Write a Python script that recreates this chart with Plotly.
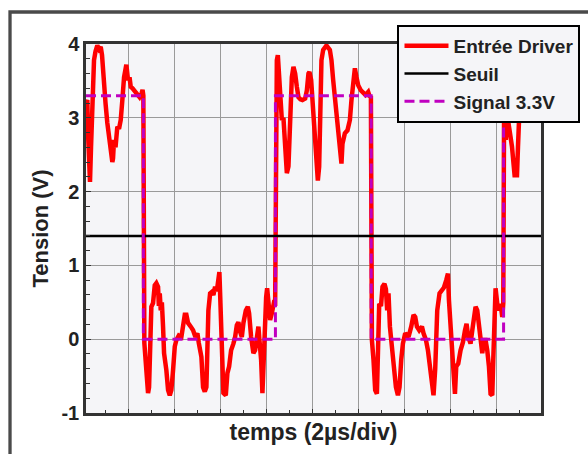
import plotly.graph_objects as go

# ---- data (time in µs, voltage in V) ----
t_driver = [0.143, 0.200, 0.230, 0.274, 0.317, 0.361, 0.404, 0.448, 0.491, 0.557, 0.635, 0.709, 0.783,
            0.839, 0.926, 0.991, 1.070, 1.143, 1.217, 1.287, 1.317, 1.361, 1.426, 1.504, 1.578, 1.652,
            1.722, 1.796, 1.896, 1.970, 2.035, 2.087, 2.165, 2.230, 2.296, 2.374, 2.470, 2.557, 2.600,
            2.635, 2.648, 2.657, 2.678,
            2.765, 2.839, 2.883, 2.926, 2.957, 2.983, 3.057, 3.130, 3.200, 3.274, 3.309, 3.348, 3.391,
            3.439, 3.491, 3.535, 3.635, 3.709, 3.783, 3.852, 3.926, 4.000, 4.070, 4.174, 4.287, 4.361,
            4.435, 4.504, 4.578, 4.696, 4.796, 4.896, 4.983, 5.043, 5.157, 5.230, 5.304, 5.374, 5.404,
            5.461, 5.535, 5.609, 5.678, 5.752, 5.826, 5.896, 5.939, 5.970, 6.013, 6.070, 6.113, 6.217,
            6.287, 6.361, 6.448, 6.548, 6.622, 6.696, 6.765, 6.839, 6.913, 6.983, 7.087, 7.174, 7.230,
            7.317, 7.417, 7.491, 7.565, 7.635, 7.678, 7.752, 7.809, 7.870, 7.896, 7.970, 8.013, 8.070,
            8.143, 8.217, 8.287, 8.330, 8.361, 8.374, 8.391,
            8.435, 8.478, 8.535, 8.578, 8.652, 8.722, 8.796, 8.870, 8.939, 8.983, 9.026, 9.087, 9.157,
            9.230, 9.304, 9.374, 9.461, 9.548, 9.665, 9.739, 9.809, 9.852, 9.926, 10.000, 10.070,
            10.143, 10.217, 10.274, 10.317, 10.374, 10.448, 10.591, 10.739, 10.809, 10.883, 10.957,
            11.026, 11.100, 11.174, 11.243, 11.287, 11.391, 11.504, 11.609, 11.678, 11.752, 11.826,
            11.896, 11.970, 12.087, 12.187, 12.287, 12.404, 12.478, 12.522, 12.535, 12.557,
            12.565, 12.635, 12.709, 12.783, 12.830, 12.883, 12.961, 13.026, 13.113, 13.174, 13.230,
            13.287, 13.348, 13.435, 13.504, 13.609, 13.696, 13.765, 13.839, 13.913, 14.013, 14.157,
            14.274, 14.374, 14.448, 14.522, 14.622, 14.739, 14.809, 14.913, 15.000, 15.100, 15.174,
            15.243, 15.317, 15.348, 15.404, 15.504, 15.622, 15.696, 15.796, 15.870, 15.913, 15.983,
            16.057, 16.100, 16.174, 16.230, 16.317, 16.417, 16.522, 16.609, 16.678, 16.752, 16.852,
            16.926, 17.000, 17.070, 17.143, 17.217, 17.287, 17.361, 17.435, 17.504, 17.578, 17.652,
            17.722, 17.796, 17.839, 17.883, 17.939, 18.013, 18.087, 18.157, 18.230, 18.274, 18.291,
            18.309,
            18.383, 18.448, 18.504, 18.652, 18.765, 18.870, 18.913, 18.939, 18.970, 19.013, 19.100,
            19.230, 19.361, 19.535, 19.709, 19.913]
v_driver = [3.20, 3.24, 2.80, 2.30, 2.13, 2.60, 3.15, 3.40, 3.78, 3.90, 3.98, 3.93, 3.96,
            3.85, 3.37, 3.20, 2.93, 2.75, 2.56, 2.40, 2.45, 2.70, 2.60, 2.88, 2.85, 2.97,
            3.24, 3.55, 3.72, 3.51, 3.55, 3.42, 3.40, 3.37, 3.35, 3.31, 3.28, 3.33, 3.38,
            3.30, 1.50, 0.30, -0.05,
            -0.42, -0.73, -0.65, -0.30, -0.05, 0.44, 0.49, 0.73, 0.76, 0.71, 0.45, 0.62, 0.39,
            0.50, 0.17, -0.19, -0.42, -0.69, -0.76, -0.69, -0.42, -0.10, -0.01, 0.05, 0.03, 0.17,
            0.33, 0.33, 0.22, 0.17, 0.12, 0.03, 0.08, -0.05, -0.24, -0.65, -0.71, -0.65, -0.01,
            0.39, 0.62, 0.64, 0.60, 0.71, 0.65, 0.87, 0.91, 0.62, 0.26, -0.28, -0.73, -0.76,
            -0.46, -0.37, -0.15, -0.06, 0.03, 0.19, 0.23, 0.10, 0.03, 0.22, 0.39, 0.44, 0.35,
            0.03, -0.19, -0.15, 0.03, 0.17, -0.01, -0.28, -0.73, -0.28, 0.26, 0.57, 0.69, 0.49,
            0.26, 0.35, 0.49, 0.53, 0.45, 2.00, 3.19,
            3.78, 3.85, 3.51, 3.15, 2.97, 3.00, 2.70, 2.25, 2.34, 2.70, 3.15, 3.55, 3.69,
            3.60, 3.42, 3.28, 3.25, 3.24, 3.26, 3.37, 3.60, 3.62, 3.51, 3.15, 2.79,
            2.43, 2.15, 2.34, 2.92, 3.78, 3.92, 3.98, 3.92, 3.78, 3.51, 3.28,
            3.01, 2.74, 2.56, 2.38, 2.65, 2.79, 2.83, 2.97, 3.24, 3.55, 3.67,
            3.55, 3.44, 3.37, 3.33, 3.31, 3.35, 3.28, 3.30, 1.50, 0.10,
            -0.01, -0.28, -0.69, -0.74, -0.30, 0.48, 0.45, 0.71, 0.75, 0.68, 0.39,
            0.62, 0.17, -0.10, -0.37, -0.65, -0.76, -0.65, -0.28, -0.06, 0.08, 0.03,
            0.17, 0.33, 0.30, 0.17, 0.12, 0.17, 0.08, -0.01, -0.15, -0.42, -0.69,
            -0.76, -0.40, 0.17, 0.39, 0.62, 0.66, 0.70, 0.80, 0.89, 0.53, 0.17,
            -0.20, -0.42, -0.74, -0.37, -0.33, -0.15, -0.04, 0.12, 0.21, 0.03, -0.06,
            0.12, 0.30, 0.44, 0.39, 0.17, -0.10, -0.19, -0.01, -0.01, -0.15, -0.37,
            -0.74, -0.76, -0.28, 0.39, 0.69, 0.48, 0.39, 0.48, 0.30, 0.49, 2.00,
            3.10,
            2.70, 3.05, 2.92, 2.61, 2.22, 2.22, 2.61, 2.92, 3.06, 3.40, 3.70,
            3.90, 3.60, 3.50, 3.70, 3.60]

t_signal = [0.143, 2.635, 2.635, 8.374, 8.374, 12.535, 12.535, 18.287, 18.287, 19.913]
v_signal = [3.3, 3.3, 0.0, 0.0, 3.3, 3.3, 0.0, 0.0, 3.3, 3.3]

t_seuil = [0.143, 19.913]
v_seuil = [1.4, 1.4]

x_range = [0.143, 19.913]
y_range = [-1, 4]
y_ticks = [-1, 0, 1, 2, 3, 4]
y_ticklabels = ["-1", "0", "1", "2", "3", "4"]

FONT = "Liberation Sans, Arial, sans-serif"
TXT = "#222222"

fig = go.Figure()
fig.add_trace(go.Scatter(x=t_driver, y=v_driver, mode="lines", name="Entrée Driver",
                         line=dict(color="#ff0000", width=4.5)))
fig.add_trace(go.Scatter(x=t_seuil, y=v_seuil, mode="lines", name="Seuil",
                         line=dict(color="#000000", width=2.5)))
fig.add_trace(go.Scatter(x=t_signal, y=v_signal, mode="lines", name="Signal 3.3V",
                         line=dict(color="#c000c0", width=3, dash="10px,5px")))

fig.update_layout(
    width=588, height=454,
    margin=dict(l=86, r=47, t=44, b=41, autoexpand=False),
    paper_bgcolor="white",
    plot_bgcolor="#f5f5f8",
    font=dict(family=FONT, size=19, color=TXT, weight="bold"),
    showlegend=True,
    legend=dict(x=0.6846, y=1.0515, xanchor="left", yanchor="top",
                bgcolor="#f5f5f8", bordercolor="#000000", borderwidth=2,
                font=dict(family=FONT, size=19, color=TXT, weight="bold"),
                itemwidth=44, tracegroupgap=0),
    xaxis=dict(range=x_range, tick0=0, dtick=2, showticklabels=False,
               showgrid=True, gridcolor="#9a9a9a", gridwidth=1, zeroline=False,
               showline=True, linecolor="#333333", linewidth=2.5, mirror=True,
               ticks="inside", ticklen=4, tickcolor="#333333",
               minor=dict(dtick=1, tick0=0, ticks="inside", ticklen=3, tickcolor="#333333", showgrid=False),
               title=dict(text="temps (2µs/div)", standoff=10,
                          font=dict(family=FONT, size=23, color=TXT, weight="bold"))),
    yaxis=dict(range=y_range, tickvals=y_ticks, ticktext=y_ticklabels,
               showgrid=True, gridcolor="#9a9a9a", gridwidth=1,
               zeroline=False, showline=True, linecolor="#333333", linewidth=2.5, mirror=True,
               ticks="inside", ticklen=5, tickcolor="#333333",
               minor=dict(dtick=0.2, tick0=0, ticks="inside", ticklen=4, tickcolor="#333333", showgrid=False),
               tickfont=dict(family=FONT, size=20, color=TXT, weight="bold"),
               title=dict(text="Tension (V)", standoff=7,
                          font=dict(family=FONT, size=22, color=TXT, weight="bold"))),
    shapes=[dict(type="rect", xref="paper", yref="paper",
                 x0=-0.167, y0=-0.3, x1=1.3, y1=1.0867,
                 line=dict(color="#4a4a4a", width=3.3), fillcolor="rgba(0,0,0,0)", layer="above")],
)

fig.write_html("out.html", config={"displayModeBar": False},
               post_script="document.body.style.margin='0';document.body.style.padding='0';")
